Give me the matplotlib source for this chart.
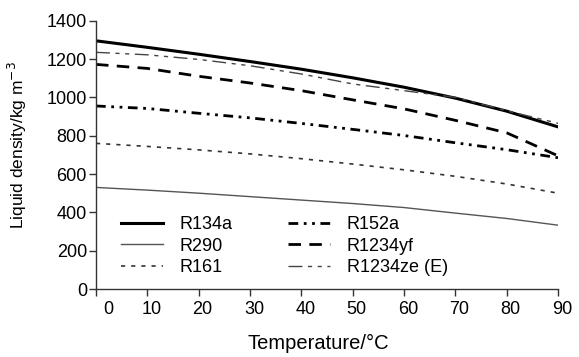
import matplotlib
matplotlib.use("Agg")
import matplotlib.pyplot as plt
import matplotlib.transforms as mtransforms

plt.rcParams['font.family'] = ['Liberation Sans', 'DejaVu Sans']

temps = [0, 10, 20, 30, 40, 50, 60, 70, 80, 90]
r134a = [1295, 1261, 1225, 1187, 1147, 1102, 1053, 996, 928, 846]
r290 = [530, 516, 500, 482, 464, 446, 425, 396, 368, 333]
r161 = [760, 744, 726, 705, 680, 652, 622, 588, 548, 500]
r152a = [955, 942, 917, 893, 864, 833, 801, 763, 727, 685]
r1234yf = [1172, 1151, 1110, 1075, 1035, 987, 940, 880, 815, 695]
r1234ze = [1235, 1222, 1198, 1165, 1122, 1070, 1035, 1000, 930, 865]

labels = ['R134a', 'R290', 'R161', 'R152a', 'R1234yf', 'R1234ze (E)']
xticks = [0, 10, 20, 30, 40, 50, 60, 70, 80, 90]
yticks = [0, 200, 400, 600, 800, 1000, 1200, 1400]

W, H = 579, 357
fig = plt.figure(figsize=(W/100, H/100), dpi=100)
ax = fig.add_axes([96/W, 1 - 289/H, (558-96)/W, (289-20.7)/H])

styles = [
    dict(color='black', lw=2.2, ls='-'),
    dict(color='#555555', lw=1.0, ls='-'),
    dict(color='#333333', lw=1.2, ls=(0, (2.5, 3.6))),
    dict(color='black', lw=2.0, ls=(0, (3.5, 2, 1, 2, 1, 2))),
    dict(color='black', lw=2.0, ls=(0, (4.5, 3))),
    dict(color='#444444', lw=1.0, ls=(0, (10, 4, 3, 4, 3, 4))),
]
series = [r134a, r290, r161, r152a, r1234yf, r1234ze]
handles = []
for s, st, lab in zip(series, styles, labels):
    h, = ax.plot(temps, s, label=lab, **st)
    handles.append(h)

ax.set_xlim(0, 90)
ax.set_ylim(0, 1400)
ax.set_xticks(xticks)
ax.set_yticks(yticks)
ax.tick_params(labelsize=13, direction='out', length=5, width=1, color='#333333')
ax.tick_params(axis='y', pad=1.5)
ax.tick_params(axis='x', pad=4)
for sp in ['top', 'right']:
    ax.spines[sp].set_visible(False)
for sp in ['left', 'bottom']:
    ax.spines[sp].set_color('#333333')
    ax.spines[sp].set_linewidth(1.0)

for i, lbl in enumerate(ax.get_xticklabels()):
    dx = 12 if i == 0 else 4
    lbl.set_transform(lbl.get_transform() + mtransforms.ScaledTranslation(dx/100, 0, fig.dpi_scale_trans))

xl = ax.set_xlabel('Temperature/°C', fontsize=14.5)
ax.xaxis.set_label_coords((318-96)/462, (289-343)/268.1)
xl.set_va('center')
yl = ax.set_ylabel('Liquid density/kg m$^{-3}$', fontsize=12.5)
ax.yaxis.set_label_coords((17-96)/462, (289-145)/268.1)
yl.set_va('center')

common = dict(frameon=False, fontsize=13, loc='lower left',
              bbox_transform=fig.transFigure,
              handlelength=2.3, handletextpad=0.95, labelspacing=0.24,
              borderaxespad=0, borderpad=0)
leg1 = ax.legend(handles=handles[:3], bbox_to_anchor=(121/W, 1 - 276/H), **common)
ax.add_artist(leg1)
leg2 = ax.legend(handles=handles[3:], bbox_to_anchor=(288/W, 1 - 276/H), **common)

fig.savefig('out.png', dpi=100)
